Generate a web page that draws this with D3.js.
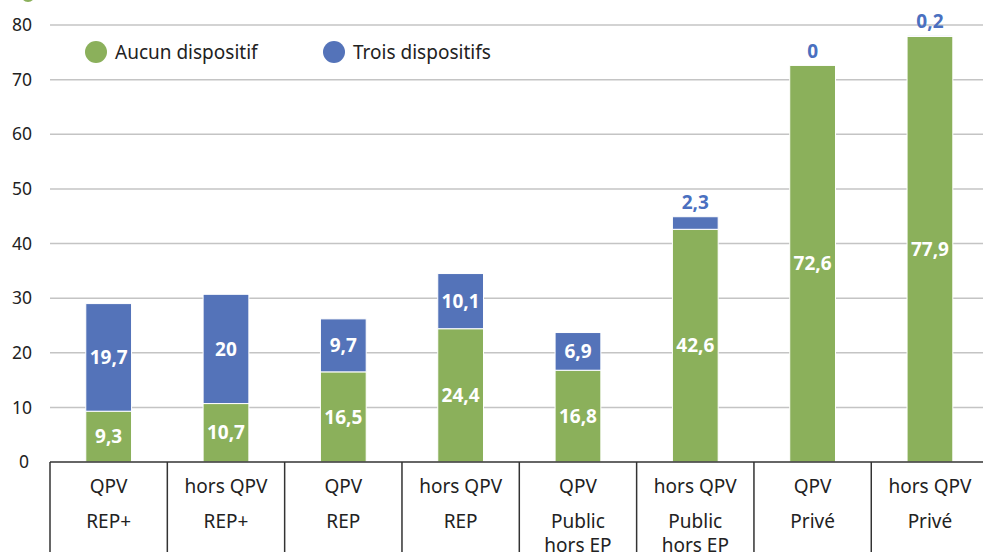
<!DOCTYPE html>
<html><head><meta charset="utf-8">
<script src="https://cdn.jsdelivr.net/npm/d3@7"></script>
<style>body{margin:0;background:#fff;overflow:hidden}svg{display:block}</style>
</head><body>
<svg id="c" width="983" height="552"></svg>
<script>
const zoneLabels = ["QPV","hors QPV","QPV","hors QPV","QPV","hors QPV","QPV","hors QPV"];
const sectorLabels = [["REP+"],["REP+"],["REP"],["REP"],["Public","hors EP"],["Public","hors EP"],["Privé"],["Privé"]];
const aucun = [9.3,10.7,16.5,24.4,16.8,42.6,72.6,77.9];
const trois = [19.7,20,9.7,10.1,6.9,2.3,0,0.2];
const yTicks = [0,10,20,30,40,50,60,70,80];
const seriesNames = ["Aucun dispositif","Trois dispositifs"];

const green = "#8bb05b", blue = "#5473b9", labelBlue = "#4a70c0";
const svg = d3.select("#c");
const font = "'Noto Sans', 'Open Sans', sans-serif";
const idx = d3.range(aucun.length);
const x = d3.scaleBand().domain(idx).range([50, 988.6]).paddingInner(0).paddingOuter(0);
const y = d3.scaleLinear().domain([0,80]).range([462,25]);
const bw = x.bandwidth()*0.39;

// cut-off title marker
svg.append("circle").attr("cx",28).attr("cy",-5).attr("r",7).attr("fill",green);

// grid
svg.append("g").selectAll("line").data(yTicks.filter(d=>d>0)).join("line")
  .attr("x1",50).attr("x2",983).attr("y1",d=>y(d)).attr("y2",d=>y(d))
  .attr("stroke","#c4c4c4").attr("stroke-width",1.5);
// y labels
svg.append("g").selectAll("text").data(yTicks).join("text")
  .attr("x",d=>d===0?29:32).attr("y",d=>y(d)).attr("dy","0.35em").attr("text-anchor","end")
  .attr("font-family",font).attr("font-size",17.5).attr("fill","#222")
  .text(d=>d);

// bars
const g = svg.append("g");
g.selectAll("rect.a").data(idx).join("rect").attr("class","a")
  .attr("x",i=>x(i)+(x.bandwidth()-bw)/2).attr("width",bw)
  .attr("y",i=>y(aucun[i])).attr("height",i=>y(0)-y(aucun[i]))
  .attr("fill",green).attr("stroke","#fff").attr("stroke-width",1);
g.selectAll("rect.t").data(idx.filter(i=>trois[i]>0)).join("rect").attr("class","t")
  .attr("x",i=>x(i)+(x.bandwidth()-bw)/2).attr("width",bw)
  .attr("y",i=>y(aucun[i]+trois[i])).attr("height",i=>y(aucun[i])-y(aucun[i]+trois[i]))
  .attr("fill",blue).attr("stroke","#fff").attr("stroke-width",1);

const fmt = v => String(v).replace(".",",");
// labels
g.selectAll("text.la").data(idx).join("text").attr("class","la")
  .attr("x",i=>x(i)+x.bandwidth()/2).attr("y",i=>y(aucun[i]/2)).attr("dy","0.35em")
  .attr("text-anchor","middle").attr("font-family",font).attr("font-weight","bold")
  .attr("font-size",19).attr("fill","#fff").text(i=>fmt(aucun[i]));
g.selectAll("text.lt").data(idx).join("text").attr("class","lt")
  .attr("x",i=>x(i)+x.bandwidth()/2)
  .attr("y",i=>trois[i]>=5 ? y(aucun[i]+trois[i]/2) : y(aucun[i]+trois[i])-14)
  .attr("dy","0.35em")
  .attr("text-anchor","middle").attr("font-family",font).attr("font-weight","bold")
  .attr("font-size",19).attr("fill",i=>trois[i]>=5?"#fff":labelBlue).text(i=>fmt(trois[i]));

// category table
const ax = svg.append("g").attr("stroke","#333").attr("stroke-width",1.5);
ax.append("line").attr("x1",50).attr("x2",988).attr("y1",462).attr("y2",462);
ax.selectAll("line.v").data(d3.range(aucun.length+1)).join("line").attr("class","v")
  .attr("x1",i=>i<aucun.length?x(i):x.range()[1]).attr("x2",i=>i<aucun.length?x(i):x.range()[1])
  .attr("y1",462).attr("y2",552);
svg.append("g").selectAll("text").data(idx).join("text")
  .attr("x",i=>x(i)+x.bandwidth()/2).attr("y",493).attr("text-anchor","middle")
  .attr("font-family",font).attr("font-size",19).attr("fill","#222").text(i=>zoneLabels[i]);
const sl = svg.append("g");
idx.forEach(i=>{
  sectorLabels[i].forEach((t,k)=>{
    sl.append("text").attr("x",x(i)+x.bandwidth()/2).attr("y",528+k*24).attr("text-anchor","middle")
      .attr("font-family",font).attr("font-size",19).attr("fill","#222").text(t);
  });
});

// legend
const leg = svg.append("g");
[[96,green],[334,blue]].forEach(([cx,c],k)=>{
  leg.append("circle").attr("cx",cx).attr("cy",52).attr("r",11).attr("fill",c);
  leg.append("text").attr("x",cx+19).attr("y",52).attr("dy","0.35em")
    .attr("font-family",font).attr("font-size",19).attr("fill","#222").text(seriesNames[k]);
});
</script>
</body></html>
